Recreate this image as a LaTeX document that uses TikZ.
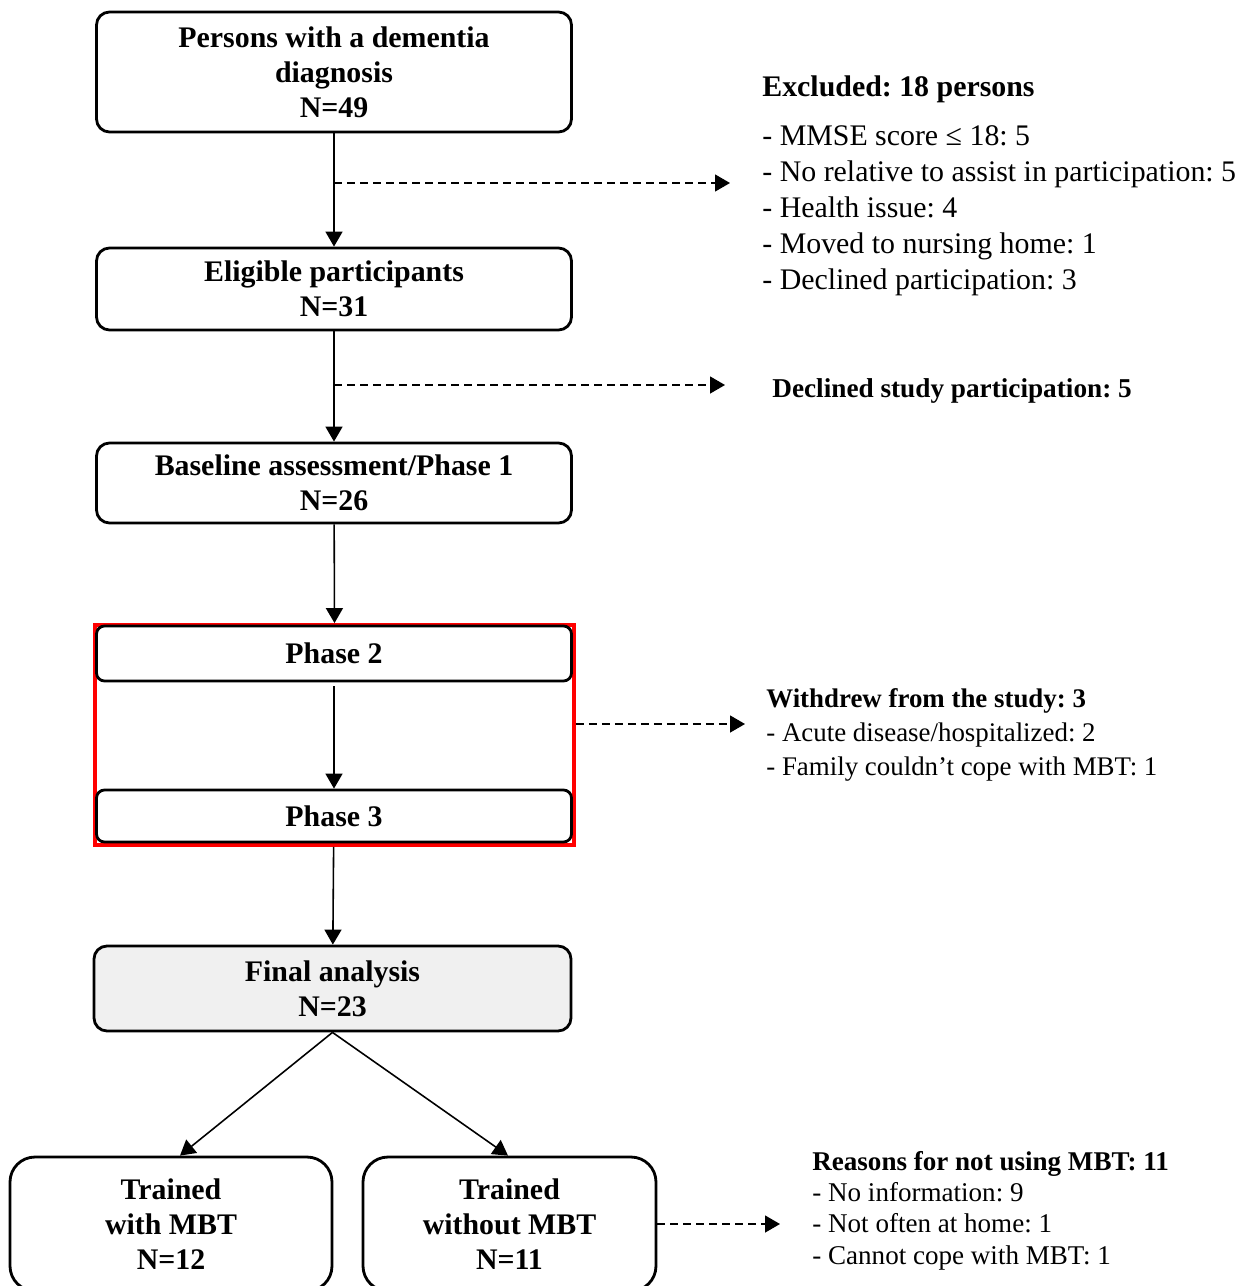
\documentclass[tikz,border=0pt]{standalone}
\usepackage{fontspec}
\setmainfont{Liberation Serif}
\usetikzlibrary{positioning,arrows.meta}
\definecolor{finalgray}{RGB}{240,240,240}
\frenchspacing

\begin{document}
\begin{tikzpicture}[>={Triangle[length=0.3cm,width=0.34cm]},
   box/.style={draw, line width=1.6pt, rounded corners=0.26cm, align=center, minimum width=9.5cm, inner sep=1pt, font=\fontsize{17}{20}\selectfont\bfseries},
   phasebox/.style={box, rounded corners=0.16cm},
   grpbox/.style={box, rounded corners=0.5cm},
   redframe/.style={draw=red, line width=2.2pt, minimum width=9.58cm, minimum height=4.4cm, inner sep=0pt},
   flowarrow/.style={->, line width=0.9pt},
   skiparrow/.style={->, line width=0.8pt, dash pattern=on 0.16cm off 0.1cm},
   notetext/.style={anchor=north west, inner sep=0pt, align=left}
   ]
   \useasboundingbox (0,0) rectangle (25,-25.72);
   \clip (0,0) rectangle (25,-25.72);

   \path (6.68,-1.44) node[box, minimum height=2.4cm] (P) {Persons with a dementia\\diagnosis\\N=49}
   (6.68,-5.78) node[box, minimum height=1.64cm] (E) {Eligible participants\\N=31};
   \path (6.68,-9.66) node[box, minimum height=1.6cm] (B) {Baseline assessment/Phase 1\\N=26};
   \path (6.69,-14.7) node[redframe] (R) {};
   \path (6.68,-13.07) node[phasebox, minimum height=1.1cm] (PA) {Phase 2}
   (6.68,-16.32) node[phasebox, minimum height=1.04cm] (PB) {Phase 3};
   \path (6.65,-19.77) node[box, fill=finalgray, minimum width=9.54cm, minimum height=1.7cm] (F) {Final analysis\\N=23};
   \path (3.42,-24.48) node[grpbox, minimum width=6.44cm, minimum height=2.68cm] (TW) {Trained\\with MBT\\N=12}
   (10.19,-24.48) node[grpbox, minimum width=5.86cm, minimum height=2.68cm] (TO) {Trained\\without MBT\\N=11};

   \path (15.24,-1.5) node[notetext, font=\fontsize{17}{20.5}\selectfont] (X) {\textbf{Excluded: 18 persons}\\[7.4pt]
   - MMSE score ≤ 18: 5\\
   - No relative to assist in participation: 5\\
   - Health issue: 4\\
   - Moved to nursing home: 1\\
   - Declined participation: 3};
   \path (15.44,-7.56) node[notetext, font=\fontsize{15.5}{19}\selectfont\bfseries] (D) {Declined study participation: 5};
   \path (15.32,-13.76) node[notetext, font=\fontsize{15.3}{19.5}\selectfont] (W) {\textbf{Withdrew from the study: 3}\\
   - Acute disease/hospitalized: 2\\
   - Family couldn’t cope with MBT: 1};
   \path (16.24,-23.02) node[notetext, font=\fontsize{15.4}{17.8}\selectfont] (N) {\textbf{Reasons for not using MBT: 11}\\
   - No information: 9\\
   - Not often at home: 1\\
   - Cannot cope with MBT: 1};

   \coordinate (x1) at (P.south |- 0,-3.66);
   \coordinate (x1e) at (14.6,-3.66);
   \coordinate (x2) at (E.south |- 0,-7.7);
   \coordinate (x2e) at (14.5,-7.7);
   \coordinate (x3) at (R.east |- 0,-14.48);
   \coordinate (x3e) at (14.9,-14.48);
   \coordinate (x4e) at (15.6,-24.48);

   \draw[flowarrow] (P) -- (E);
   \draw[flowarrow] (E) -- (B);
   \draw[flowarrow] (B) -- (R.north);
   \draw[flowarrow, shorten <=0.08cm] (PA) -- (PB);
   \draw[flowarrow] (R) -- (F);
   \draw[flowarrow] (F.south) -- ([xshift=0.18cm]TW.north);
   \draw[flowarrow] (F.south) -- ([xshift=-0.03cm]TO.north);

   \draw[skiparrow] (x1) -- (x1e);
   \draw[skiparrow] (x2) -- (x2e);
   \draw[skiparrow] (x3) -- (x3e);
   \draw[skiparrow] (TO) -- (x4e);
\end{tikzpicture}
\end{document}
